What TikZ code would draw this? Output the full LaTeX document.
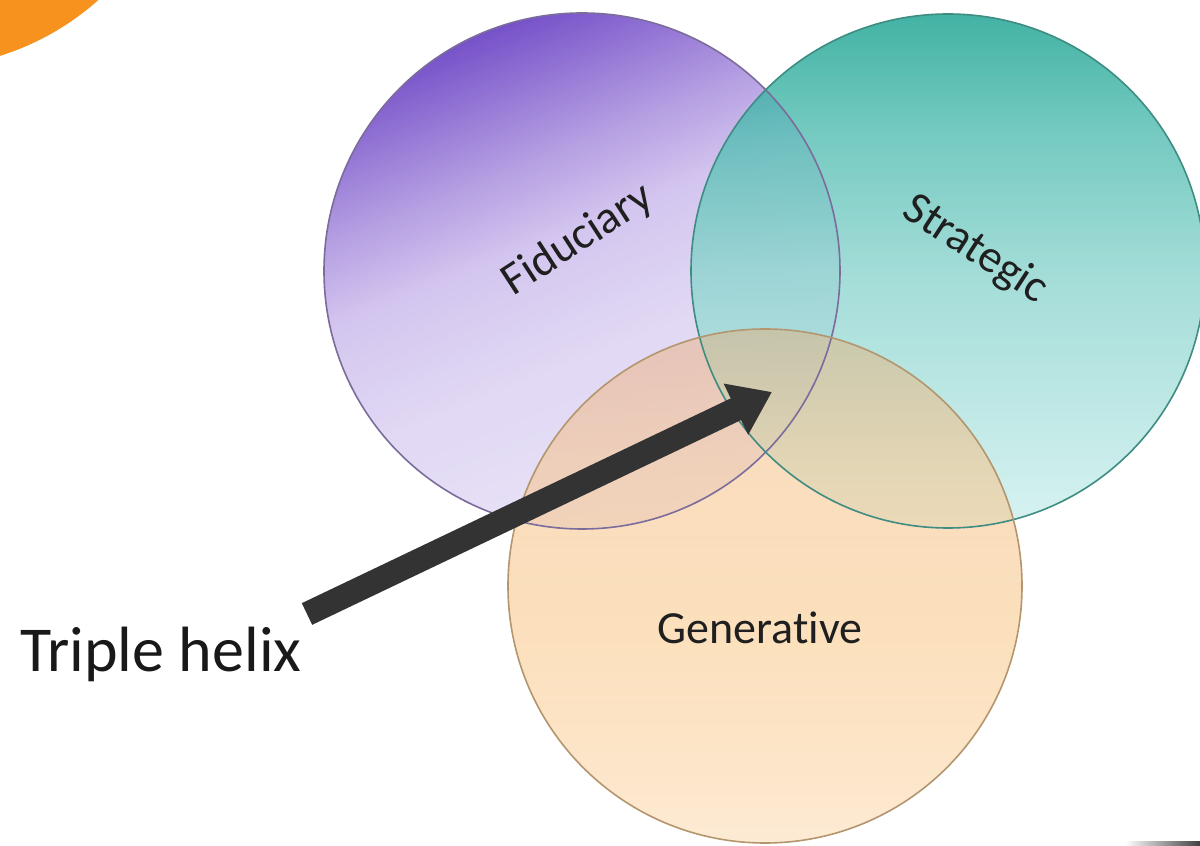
\documentclass[tikz,border=0pt]{standalone}
\usepackage{fontspec}
\setmainfont[RawFeature={-liga;-dlig}]{Carlito}
\usetikzlibrary{arrows.meta,fadings}
\definecolor{fidLine}{HTML}{7C6C9C}
\definecolor{strLine}{HTML}{3E8C82}
\definecolor{genLine}{HTML}{B4966E}
\definecolor{arrowCol}{HTML}{333333}
\definecolor{blobCol}{HTML}{F7921E}
\pgfdeclareverticalshading{fidshade}{100bp}{%
  color(0bp)=(rgb,255:red,230;green,224;blue,246);
  color(25bp)=(rgb,255:red,230;green,224;blue,246);
  color(42bp)=(rgb,255:red,222;green,212;blue,243);
  color(54bp)=(rgb,255:red,206;green,190;blue,237);
  color(62bp)=(rgb,255:red,170;green,145;blue,222);
  color(75bp)=(rgb,255:red,100;green,58;blue,194);
  color(100bp)=(rgb,255:red,100;green,58;blue,194)}
\pgfdeclareverticalshading{strshade}{100bp}{%
  color(0bp)=(rgb,255:red,206;green,240;blue,238);
  color(25bp)=(rgb,255:red,206;green,240;blue,238);
  color(50bp)=(rgb,255:red,140;green,212;blue,206);
  color(64bp)=(rgb,255:red,80;green,188;blue,176);
  color(75bp)=(rgb,255:red,20;green,160;blue,142);
  color(100bp)=(rgb,255:red,20;green,160;blue,142)}
\pgfdeclareverticalshading{genshade}{100bp}{%
  color(0bp)=(rgb,255:red,253;green,234;blue,210);
  color(25bp)=(rgb,255:red,253;green,234;blue,210);
  color(45bp)=(rgb,255:red,251;green,214;blue,166);
  color(62bp)=(rgb,255:red,246;green,196;blue,140);
  color(75bp)=(rgb,255:red,236;green,168;blue,108);
  color(100bp)=(rgb,255:red,236;green,168;blue,108)}
\tikzfading[name=genfade, top color=transparent!58, bottom color=transparent!5]
\tikzset{
  vennline/.style={line width=1.6pt},
  lbl/.style={font=\fontsize{46}{50}\selectfont, text=black!88, inner sep=0pt},
  helixarrow/.style={line width=24pt, draw=arrowCol, -{Triangle[width=54pt,length=40pt]}}
}
\begin{document}
\begin{tikzpicture}[x=1pt,y=1pt]
\useasboundingbox (0,0) rectangle (1200,846);
\fill[white] (0,0) rectangle (1200,846);
% orange blob in corner
\fill[blobCol] (-80,1046) circle (268);
\shade[left color=white, right color=black!75] (1125,0) rectangle (1200,4);
% circle centres
\coordinate (F) at (582,575);
\coordinate (S) at (948,575);
\coordinate (G) at (765,260);
% fills
\shade[shading=fidshade, shading angle=22, fill opacity=0.88] (F) circle (258);
\shade[shading=strshade, fill opacity=0.8] (S) circle (257);
\shade[shading=genshade, path fading=genfade] (G) circle (257);
% outlines
\draw[vennline, fidLine] (F) circle (258);
\draw[vennline, strLine] (S) circle (257);
\draw[vennline, genLine] (G) circle (257);
% labels
\node[lbl, rotate=33] (fidl) at (578,606) {Fiduciary};
\node[lbl, rotate=-33] (strl) at (975,596) {Strategic};
\node[lbl] (genl) at (760,218) {Generative};
\node[inner sep=0pt, anchor=base west, font=\fontsize{64}{68}\selectfont, text=black!90] (helix) at (20,174) {Triple helix};
% arrow
\coordinate (tail) at (307,232);
\coordinate (tip) at (772,454);
\draw[helixarrow] (tail) -- (tip);
\end{tikzpicture}
\end{document}
